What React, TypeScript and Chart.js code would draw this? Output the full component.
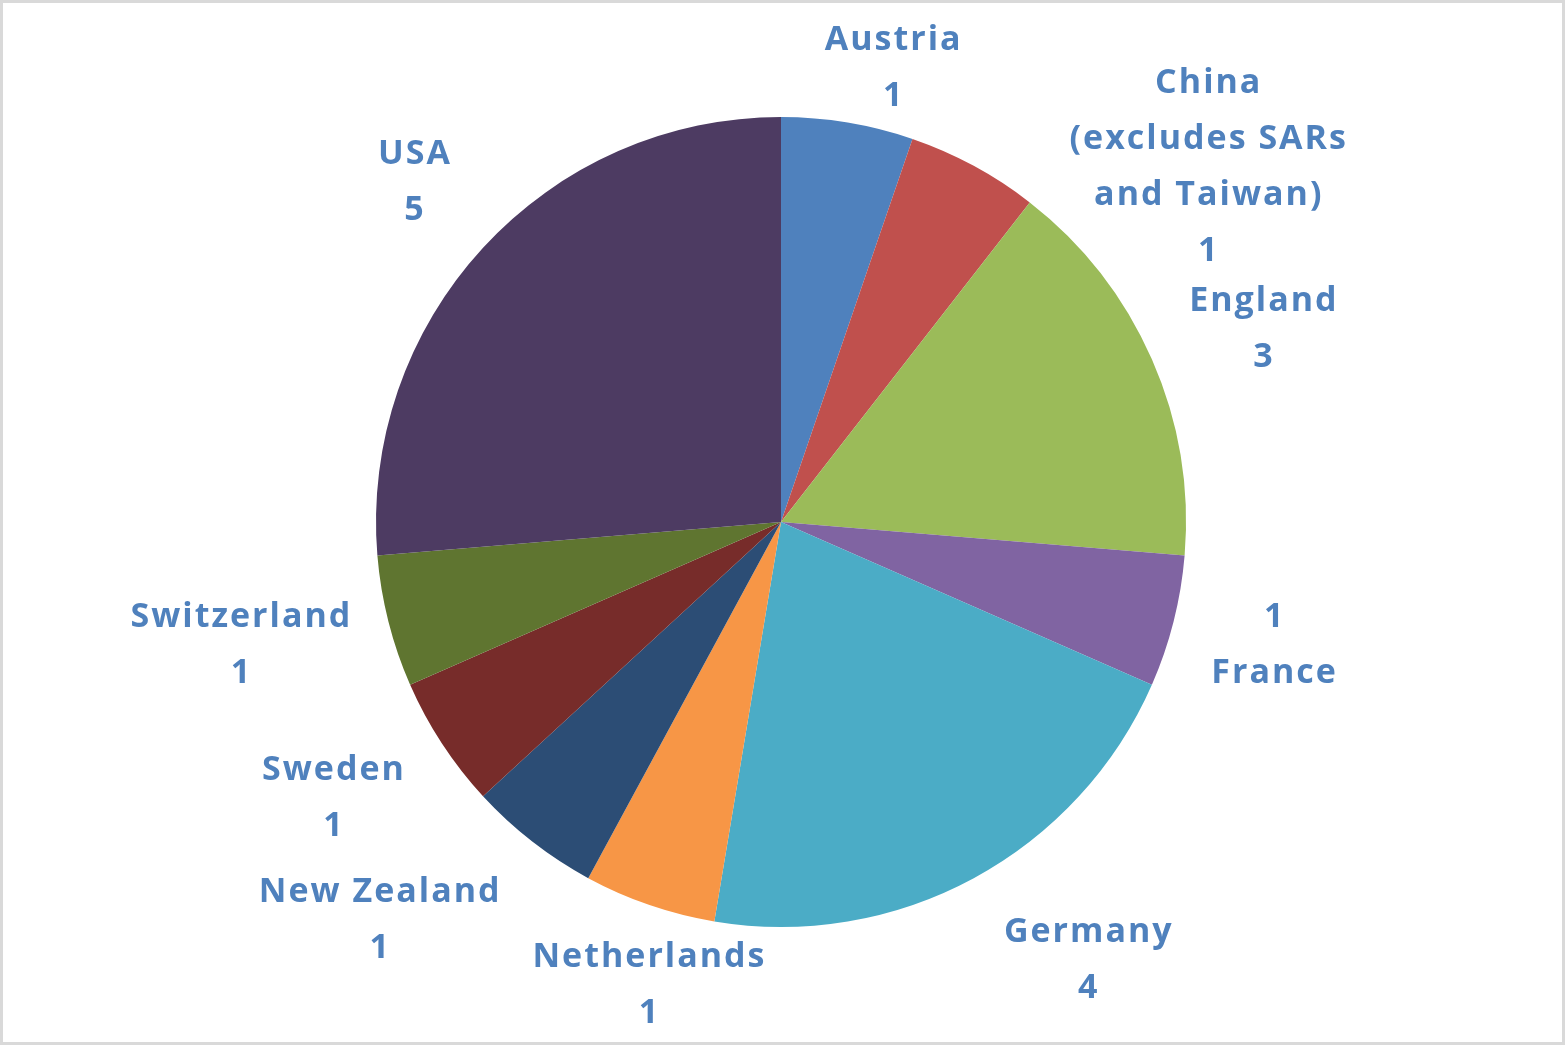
import React, { useEffect, useRef } from "react";
import { Chart, registerables } from "chart.js";

Chart.register(...registerables);

const categories = [
  "Austria",
  "China (excludes SARs and Taiwan)",
  "England",
  "France",
  "Germany",
  "Netherlands",
  "New Zealand",
  "Sweden",
  "Switzerland",
  "USA",
];
const values = [1, 1, 3, 1, 4, 1, 1, 1, 1, 5];
const labelLines: string[][] = [
  ["Austria", "1"],
  ["China", "(excludes SARs", "and Taiwan)", "1"],
  ["England", "3"],
  ["1", "France"],
  ["Germany", "4"],
  ["Netherlands", "1"],
  ["New Zealand", "1"],
  ["Sweden", "1"],
  ["Switzerland", "1"],
  ["USA", "5"],
];
const colors = [
  "#4F81BD",
  "#C0504D",
  "#9BBB59",
  "#8064A2",
  "#4BACC6",
  "#F79646",
  "#2C4D75",
  "#772C2A",
  "#5F7530",
  "#4D3B62",
];

// label offsets (px) from each slice's outer mid-point
const labelOffsets: [number, number][] = [
  [45, -56],
  [234, -1],
  [111, -32],
  [100, 22],
  [114, 80],
  [-1, 78],
  [-153, 77],
  [-109, 53],
  [-148, 22],
  [-69, -67],
];

const LINE_H = 56;

const labelPlugin = {
  id: "sliceLabels",
  afterDatasetsDraw(chart: any) {
    const meta = chart.getDatasetMeta(0);
    const ctx = chart.ctx;
    ctx.save();
    ctx.fillStyle = "#4F81BD";
    ctx.font = "bold 34px 'Open Sans'";
    (ctx as any).letterSpacing = "2px";
    ctx.textAlign = "center";
    ctx.textBaseline = "middle";
    meta.data.forEach((arc: any, i: number) => {
      const { x, y, startAngle, endAngle, outerRadius } = arc.getProps(
        ["x", "y", "startAngle", "endAngle", "outerRadius"],
        true
      );
      const mid = (startAngle + endAngle) / 2;
      const px = x + Math.cos(mid) * outerRadius + labelOffsets[i][0] + 1;
      const py = y + Math.sin(mid) * outerRadius + labelOffsets[i][1] + 2;
      const lines = labelLines[i];
      const top = py - ((lines.length - 1) * LINE_H) / 2;
      lines.forEach((t, k) => ctx.fillText(t, px, top + k * LINE_H));
    });
    ctx.restore();
  },
};

export default function App() {
  const ref = useRef<HTMLCanvasElement>(null);
  useEffect(() => {
    if (!ref.current) return;
    const chart = new Chart(ref.current, {
      type: "pie",
      data: {
        labels: categories,
        datasets: [
          {
            data: values,
            backgroundColor: colors,
            borderWidth: 0,
          },
        ],
      },
      options: {
        animation: false,
        responsive: false,
        maintainAspectRatio: false,
        layout: { padding: { top: 114, bottom: 115, left: 0, right: 3 } },
        plugins: {
          legend: { display: false },
          tooltip: { enabled: false },
        },
      },
      plugins: [labelPlugin],
    });
    return () => chart.destroy();
  }, []);
  return (
    <div
      style={{
        position: "fixed",
        left: 0,
        top: 0,
        width: 1565,
        height: 1045,
        boxSizing: "border-box",
        border: "3px solid #D9D9D9",
        background: "#fff",
      }}
    >
      <canvas
        ref={ref}
        width={1559}
        height={1039}
        style={{ display: "block", width: 1559, height: 1039 }}
      />
    </div>
  );
}
